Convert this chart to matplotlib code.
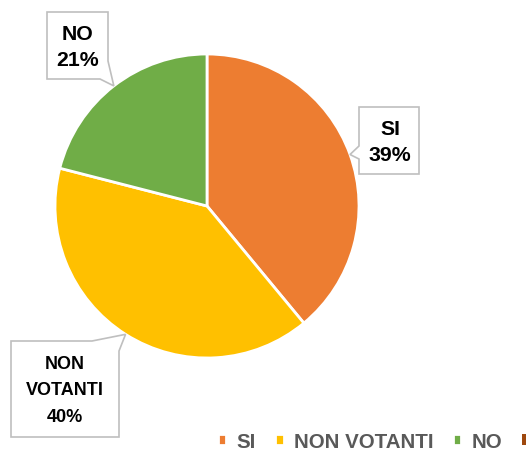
import numpy as np
import matplotlib
matplotlib.use("Agg")
import matplotlib.pyplot as plt
from matplotlib.patches import Polygon, Patch

# values
categories = ["SI", "NON VOTANTI", "NO"]
shares = [39, 40, 21]
colors = ["#ED7D31", "#FFC000", "#70AD47"]
extra_category = ""          # fourth legend entry, text cut off in the reference
extra_color = "#9E480E"

W, H = 526, 452
fig = plt.figure(figsize=(W / 100, H / 100), dpi=100)
ax = fig.add_axes([0, 0, 1, 1])

cx, cy, r = 207, H - 207, 152
wedges, _ = ax.pie(shares, colors=colors, startangle=90, counterclock=False,
                   center=(cx, cy), radius=r, frame=True,
                   wedgeprops=dict(edgecolor="white", linewidth=2))
ax.set_xlim(0, W)
ax.set_ylim(0, H)
ax.set_aspect("equal")
ax.axis("off")

LABEL_FONT = ["Liberation Sans", "DejaVu Sans"]


def tip_of(w):
    # pointer tip at the middle of the wedge's outer edge
    a = np.deg2rad((w.theta1 + w.theta2) / 2)
    return cx + r * np.cos(a), cy + r * np.sin(a)


def callout(verts, text, tx, ty, size, ls):
    ax.add_patch(Polygon(verts, closed=True, facecolor="white",
                         edgecolor="#BFBFBF", linewidth=1.2, zorder=3))
    ax.text(tx, ty, text, ha="center", va="center", fontsize=size,
            fontweight="bold", family=LABEL_FONT, linespacing=ls, zorder=4)


def Y(y):
    return H - y


# SI label, box at right with pointer on its left side
t = tip_of(wedges[0])
x0, x1, y0, y1 = 359, 419, Y(108), Y(175)
callout([(x0, y0), (x1, y0), (x1, y1), (x0, y1), (x0, Y(160)), t, (x0, Y(147))],
        f"{categories[0]}\n{shares[0]}%", (x0 + x1) / 2 + 1, (y0 + y1) / 2 - 1,
        15.3, 1.5)

# NON VOTANTI label, box bottom left with pointer from its top right
t = tip_of(wedges[1])
x0, x1, y0, y1 = 11, 119, Y(342), Y(438)
callout([(x0, y0), (92, y0), t, (x1, Y(352)), (x1, y1), (x0, y1)],
        "NON\nVOTANTI\n" + f"{shares[1]}%", (x0 + x1) / 2, (y0 + y1) / 2 - 1,
        13, 1.75)

# NO label, box top left with pointer from its bottom right
t = tip_of(wedges[2])
x0, x1, y0, y1 = 47, 108, Y(13), Y(80)
callout([(x0, y0), (x1, y0), (x1, Y(62)), t, (100, y1), (x0, y1)],
        f"{categories[2]}\n{shares[2]}%", (x0 + x1) / 2, (y0 + y1) / 2 - 1,
        15.3, 1.5)

handles = list(wedges) + [Patch(facecolor=extra_color)]
labels = categories + [extra_category]
leg = ax.legend(handles, labels, ncol=4, loc="upper left",
                bbox_to_anchor=(218, Y(433)), bbox_transform=ax.transData,
                frameon=False, borderpad=0, borderaxespad=0,
                handlelength=0.4, handleheight=0.4, handletextpad=0.5,
                columnspacing=0.95,
                prop=dict(family=LABEL_FONT, weight="bold", size=14.8))
for txt in leg.get_texts():
    txt.set_color("#595959")

fig.savefig("out.png", dpi=100, facecolor="white")
